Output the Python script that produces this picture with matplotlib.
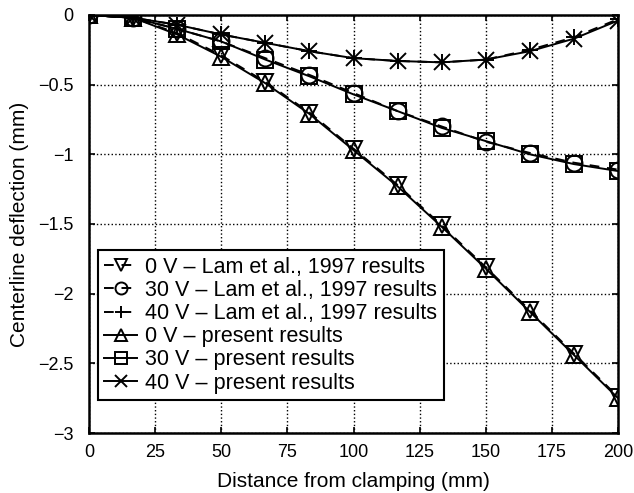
import numpy as np
import matplotlib
matplotlib.use("Agg")
import matplotlib.pyplot as plt

plt.rcParams['font.family'] = ['Liberation Sans', 'DejaVu Sans']

x = [0, 16.67, 33.33, 50, 66.67, 83.33, 100, 116.67, 133.33, 150, 166.67, 183.33, 200]

present_0v = [0, -0.02, -0.14, -0.30, -0.49, -0.71, -0.97, -1.23, -1.52, -1.82, -2.13, -2.44, -2.75]
present_30v = [0, -0.02, -0.10, -0.19, -0.32, -0.44, -0.57, -0.69, -0.81, -0.905, -1.0, -1.07, -1.12]
present_40v = [0, -0.02, -0.07, -0.14, -0.20, -0.26, -0.31, -0.33, -0.34, -0.32, -0.26, -0.17, -0.04]

lam_0v = [0, -0.02, -0.13, -0.29, -0.48, -0.70, -0.96, -1.22, -1.51, -1.81, -2.12, -2.43, -2.74]
lam_30v = [0, -0.02, -0.10, -0.19, -0.31, -0.43, -0.56, -0.69, -0.80, -0.91, -0.99, -1.06, -1.11]
lam_40v = [0, -0.02, -0.07, -0.14, -0.20, -0.26, -0.31, -0.33, -0.34, -0.32, -0.25, -0.16, -0.03]

lam_labels = ['0 V \u2013 Lam et al., 1997 results',
              '30 V \u2013 Lam et al., 1997 results',
              '40 V \u2013 Lam et al., 1997 results']
present_labels = ['0 V \u2013 present results',
                  '30 V \u2013 present results',
                  '40 V \u2013 present results']

xticks = [0, 25, 50, 75, 100, 125, 150, 175, 200]
yticks = [0, -0.5, -1, -1.5, -2, -2.5, -3]
yticklabels = ['0', '\u22120.5', '\u22121', '\u22121.5', '\u22122', '\u22122.5', '\u22123']

fig = plt.figure(figsize=(6.34, 4.93), dpi=100)
ax = fig.add_axes([0.1404, 0.1217, 0.9748 - 0.1404, 0.9696 - 0.1217])

ms = 11.5
for ys, m, lab in zip([lam_0v, lam_30v, lam_40v], ['v', 'o', '+'], lam_labels):
    ax.plot(x, ys, linestyle=(0, (5, 4)), color='black', lw=1.4, marker=m, ms=ms,
            mfc='none', mec='black', mew=1.4, label=lab)
for ys, m, lab in zip([present_0v, present_30v, present_40v], ['^', 's', 'x'], present_labels):
    ax.plot(x, ys, linestyle='-', color='black', lw=1.4, marker=m, ms=ms,
            mfc='none', mec='black', mew=1.4, label=lab)

ax.set_xlim(0, 200)
ax.set_ylim(-3, 0)
ax.set_xticks(xticks)
ax.set_yticks(yticks)
ax.set_yticklabels(yticklabels)
ax.grid(True, linestyle=':', color='black', lw=1.0)
ax.tick_params(direction='in', length=4, width=1.2, labelsize=13, top=True, right=True,
               labeltop=False, labelright=False)
ax.tick_params(axis='x', pad=8)
ax.tick_params(axis='y', pad=11)
for s in ax.spines.values():
    s.set_linewidth(1.8)
ax.set_xlabel('Distance from clamping (mm)', fontsize=15, labelpad=8)
ax.set_ylabel('Centerline deflection (mm)', fontsize=15, labelpad=7)

leg = ax.legend(loc='upper left', bbox_to_anchor=(0.017, 0.437), fontsize=15.5,
                handlelength=1.5, handletextpad=0.4, labelspacing=0.1, borderpad=0.3,
                borderaxespad=0, markerscale=0.75,
                fancybox=False, framealpha=1, edgecolor='black')
leg.get_frame().set_linewidth(1.5)

fig.savefig('out.png', dpi=100)
